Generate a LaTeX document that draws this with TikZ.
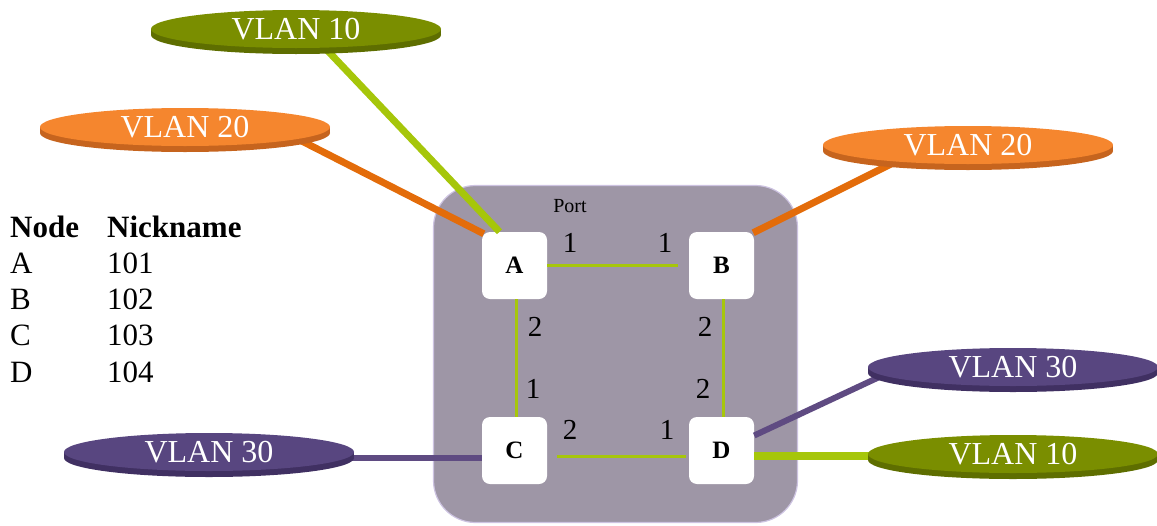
\documentclass[tikz,border=0pt]{standalone}
\usepackage{fontspec}
\setmainfont{Liberation Serif}
\usetikzlibrary{shapes.geometric,calc}
\definecolor{olivetop}{RGB}{122,142,0}
\definecolor{oliveside}{RGB}{94,110,0}
\definecolor{orangetop}{RGB}{245,134,46}
\definecolor{orangeside}{RGB}{198,100,30}
\definecolor{purpletop}{RGB}{88,70,128}
\definecolor{purpleside}{RGB}{64,48,98}
\definecolor{lime}{RGB}{166,198,10}
\definecolor{orangeline}{RGB}{227,108,10}
\definecolor{purpleline}{RGB}{95,75,130}
\definecolor{portfill}{RGB}{158,150,166}
\definecolor{portedge}{RGB}{205,195,225}
\newcommand\vlandisc[6]{%
  \fill[#5] (#2,#3+6) ellipse (145pt and 19pt);
  \fill[#5] (#2-145,#3) rectangle (#2+145,#3+6);
  \node[vlanface, fill=#4] (#1) at (#2,#3) {#6};
}
\begin{document}
\begin{tikzpicture}[x=1pt,y=-1pt,
  vlanface/.style={ellipse, minimum width=290pt, minimum height=38pt, inner sep=0pt,
    text=white, font=\fontsize{32}{32}\selectfont},
  swbox/.style={fill=white, rounded corners=8pt, minimum width=65pt, minimum height=67pt,
    inner sep=0pt, font=\fontsize{25}{25}\selectfont\bfseries},
  inlink/.style={lime, line width=3pt},
  outlink/.style={line width=7pt},
  portnum/.style={font=\fontsize{29}{29}\selectfont, inner sep=0pt},
  tabtext/.style={anchor=base west, inner sep=0pt, font=\fontsize{31}{31}\selectfont}]
\useasboundingbox (0,0) rectangle (1157,525);

% port box
\node[draw=portedge, line width=1.2pt, fill=portfill, rounded corners=42pt,
  minimum width=364pt, minimum height=337pt, inner sep=0pt] (port) at (615.5,354) {};
\node[font=\fontsize{20}{20}\selectfont, inner sep=0pt] (portlbl) at (570,206) {Port};

% switch nodes
\node[swbox] (A) at (514.5,265.5) {A};
\node[swbox] (B) at (721.5,265.5) {B};
\node[swbox] (C) at (514.5,450.5) {C};
\node[swbox] (D) at (721.5,450.5) {D};

% inner links
\draw[inlink, shorten >=11pt] (A.east) -- (B.west);
\draw[inlink, shorten <=10pt, shorten >=3pt] ([yshift=-5.5pt]C.east) -- ([yshift=-5.5pt]D.west);
\draw[inlink] ([xshift=1.5pt]A.south) -- ([xshift=1.5pt]C.north);
\draw[inlink] ([xshift=1.5pt]B.south) -- ([xshift=1.5pt]D.north);

% port numbers
\node[portnum] (pa1) at (570,243) {1};
\node[portnum] (pb1) at (665,243) {1};
\node[portnum] (pa2) at (535,327) {2};
\node[portnum] (pb2) at (705,327) {2};
\node[portnum] (pc1) at (533,389) {1};
\node[portnum] (pd2) at (703,389) {2};
\node[portnum] (pc2) at (570,430) {2};
\node[portnum] (pd1) at (667,430) {1};

% outer connectors (drawn before discs)
\coordinate (g1s) at (308,30);
\coordinate (o1s) at (288,134);
\coordinate (o2s) at (893,163);
\coordinate (p2s) at (890,372);
\coordinate (g2s) at (900,456);
\coordinate (p1s) at (330,458);
\draw[outlink, lime] (g1s) -- ([xshift=-15pt]A.north);
\draw[outlink, orangeline] (o1s) -- ([xshift=2pt,yshift=-2pt]A.north west);
\draw[outlink, orangeline] (o2s) -- ([xshift=-1pt,yshift=-1pt]B.north east);
\draw[outlink, purpleline, line width=6pt] (p2s) -- ([yshift=15pt]D.east);
\draw[outlink, lime, line width=8pt] ([yshift=-5.5pt]D.east) -- (g2s);
\draw[outlink, purpleline, line width=6pt] (p1s) -- ([yshift=-7.5pt]C.west);

% discs
\vlandisc{v10a}{296}{29}{olivetop}{oliveside}{VLAN 10}
\vlandisc{v20a}{185}{127}{orangetop}{orangeside}{VLAN 20}
\vlandisc{v20b}{968}{145}{orangetop}{orangeside}{VLAN 20}
\vlandisc{v30b}{1013}{367}{purpletop}{purpleside}{VLAN 30}
\vlandisc{v10b}{1013}{454}{olivetop}{oliveside}{VLAN 10}
\vlandisc{v30a}{209}{452}{purpletop}{purpleside}{VLAN 30}

% table
\node[tabtext, font=\fontsize{31}{31}\selectfont\bfseries] (th1) at (10,237) {Node};
\node[tabtext, font=\fontsize{31}{31}\selectfont\bfseries] (th2) at (107,237) {Nickname};
\node[tabtext] (ta) at (10,273) {A};
\node[tabtext] (tan) at (107,273) {101};
\node[tabtext] (tb) at (10,309) {B};
\node[tabtext] (tbn) at (107,309) {102};
\node[tabtext] (tc) at (10,345) {C};
\node[tabtext] (tcn) at (107,345) {103};
\node[tabtext] (td) at (10,382) {D};
\node[tabtext] (tdn) at (107,382) {104};
\end{tikzpicture}
\end{document}
